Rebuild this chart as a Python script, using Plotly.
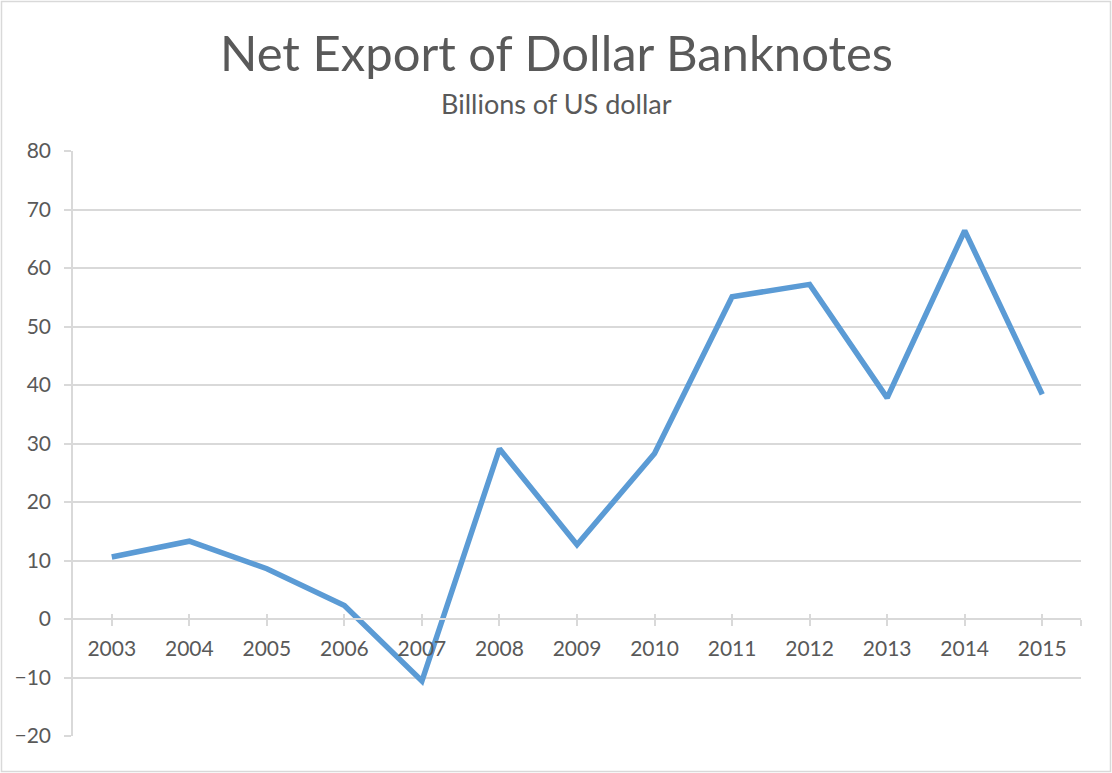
import plotly.graph_objects as go

# Net export of US dollar banknotes, billions of USD
years = ["2003", "2004", "2005", "2006", "2007", "2008", "2009",
         "2010", "2011", "2012", "2013", "2014", "2015"]
net_export = [10.6, 13.3, 8.6, 2.3, -10.6, 29.1, 12.7, 28.3, 55.1, 57.2, 37.8, 66.4, 38.4]
y_ticks = [-20, -10, 0, 10, 20, 30, 40, 50, 60, 70, 80]

title_text = "Net Export of Dollar Banknotes"
subtitle_text = "Billions of US dollar"

W, H = 1112, 773
M_L, M_R, M_T, M_B = 73, 31, 151, 37
plot_w = W - M_L - M_R
plot_h = H - M_T - M_B

FONT = "Lato, 'Open Sans', sans-serif"
TEXT = "#595959"
GRID = "#d9d9d9"
LINE = "#5b9bd5"

idx = list(range(len(years)))
x_rng = [-0.5, len(years) - 0.5]
y_rng = [y_ticks[0], y_ticks[-1]]
# category axis crosses the value axis at zero
zero_pos = (0 - y_rng[0]) / (y_rng[1] - y_rng[0])

# titles are centred on the whole chart, not on the plot area
chart_center_x = (W / 2 - M_L) / plot_w


def paper_y(px_from_top):
    return (plot_h + M_T - px_from_top) / plot_h


fig = go.Figure()
fig.add_trace(go.Scatter(
    x=idx, y=net_export, mode="lines",
    line=dict(color=LINE, width=5.5),
    hoverinfo="skip", showlegend=False,
))
# empty trace that activates the tick-only overlay axis
fig.add_trace(go.Scatter(x=[None], y=[None], xaxis="x2", mode="lines",
                         showlegend=False, hoverinfo="skip"))

fig.update_layout(
    width=W, height=H,
    margin=dict(l=M_L, r=M_R, t=M_T, b=M_B),
    paper_bgcolor="white", plot_bgcolor="white",
    font=dict(family=FONT, color=TEXT),
    xaxis=dict(
        range=x_rng, tickmode="array",
        tickvals=idx + [x_rng[1]], ticktext=years + [""],
        anchor="free", position=zero_pos,
        showline=True, linecolor=GRID, linewidth=1.5,
        ticks="outside", ticklen=6, tickcolor=GRID, tickwidth=1.5,
        showgrid=False, zeroline=False,
        tickfont=dict(family=FONT, size=21, color=TEXT),
        ticklabelstandoff=5,
    ),
    xaxis2=dict(
        range=x_rng, overlaying="x", tickmode="array",
        tickvals=idx + [x_rng[1]], showticklabels=False,
        anchor="free", position=zero_pos,
        showline=False, ticks="inside", ticklen=5, tickcolor=GRID, tickwidth=1.5,
        showgrid=False, zeroline=False,
    ),
    yaxis=dict(
        range=y_rng, tickmode="array", tickvals=y_ticks,
        showgrid=True, gridcolor=GRID, gridwidth=1.5,
        showline=True, linecolor=GRID, linewidth=1.5,
        ticks="outside", ticklen=7, tickcolor=GRID, tickwidth=1.5,
        zeroline=False,
        tickfont=dict(family=FONT, size=21, color=TEXT),
        ticklabelstandoff=9,
    ),
    annotations=[
        dict(text=title_text, xref="paper", yref="paper",
             x=chart_center_x, y=paper_y(52),
             xanchor="center", yanchor="middle", showarrow=False,
             font=dict(family=FONT, size=49, color=TEXT)),
        dict(text=subtitle_text, xref="paper", yref="paper",
             x=chart_center_x, y=paper_y(103),
             xanchor="center", yanchor="middle", showarrow=False,
             font=dict(family=FONT, size=27, color=TEXT)),
    ],
    shapes=[dict(
        type="rect", xref="paper", yref="paper",
        x0=(1.5 - M_L) / plot_w, x1=(W - 1.5 - M_L) / plot_w,
        y0=-(M_B - 1.5) / plot_h, y1=(plot_h + M_T - 1.5) / plot_h,
        line=dict(color=GRID, width=1.5), layer="below",
    )],
)

fig.write_html("out.html")
